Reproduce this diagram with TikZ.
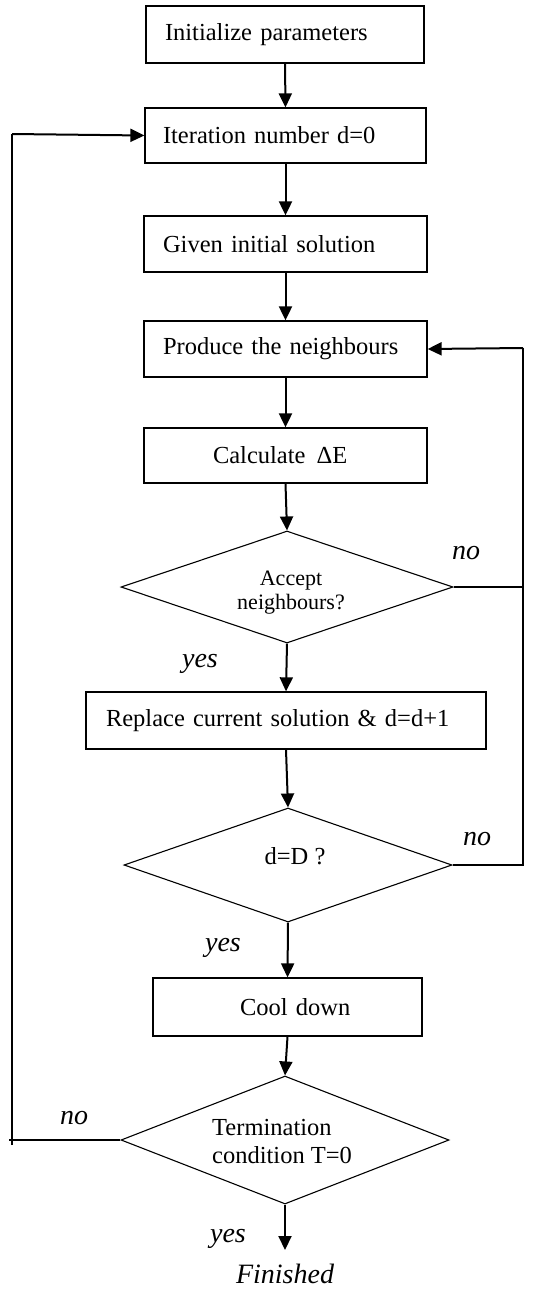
\documentclass[tikz,border=0pt]{standalone}
\usepackage{fontspec}
\setmainfont{Liberation Serif}
\usetikzlibrary{shapes.geometric,arrows.meta}
\begin{document}
\begin{tikzpicture}[x=1pt,y=-1pt,
  box/.style={draw, line width=1.3pt, inner sep=0pt, align=left, font=\fontsize{24.5}{28}\selectfont},
  dia/.style={draw, diamond, line width=1.1pt, inner sep=0pt},
  arr/.style={line width=2pt, -{Triangle[length=14pt,width=13pt]}},
  loopline/.style={line width=1.4pt},
  lbl/.style={font=\fontsize{28}{30}\selectfont\itshape, anchor=base, inner sep=0pt},
  dtxt/.style={font=\fontsize{24.5}{28}\selectfont, inner sep=0pt},
  dtxtsmall/.style={font=\fontsize{22}{25}\selectfont, inner sep=0pt, anchor=base}
]
\useasboundingbox (0,0) rectangle (535,1290);

% boxes
\node[box, text width=278pt, minimum height=57pt] (b1) at (285,34.5) {\hspace*{19pt}Initialize parameters};
\node[box, text width=281pt, minimum height=55pt] (b2) at (285.5,135.5) {\hspace*{18pt}Iteration number d=0};
\node[box, text width=283pt, minimum height=56pt] (b3) at (285.5,244) {\hspace*{19pt}Given initial solution};
\node[box, text width=283pt, minimum height=56pt] (b4) at (285.5,349) {\hspace*{19pt}Produce the neighbours};
\node[box, text width=283pt, minimum height=55pt] (b5) at (285.5,455.5) {\hspace*{69pt}Calculate\hspace{0.45em}ΔE};
\node[dia, minimum width=332pt, minimum height=112pt] (d1) at (287,587) {};
\node[box, text width=400pt, minimum height=57pt] (b6) at (286,720.5) {\hspace*{20pt}Replace current solution \& d=d+1};
\node[dia, minimum width=328pt, minimum height=114pt] (d2) at (288,865) {};
\node[box, text width=269pt, minimum height=58pt] (b7) at (287.5,1007) {\hspace*{87pt}Cool down};
\node[dia, minimum width=328pt, minimum height=128pt] (d3) at (285,1140) {};

% diamond texts
\node[dtxtsmall] (t1a) at (291,585) {Accept};
\node[dtxtsmall] (t1b) at (291,609) {neighbours?};
\node[dtxt, anchor=base] (t2) at (295,864) {d=D ?};
\node[dtxt, anchor=base west] (t3a) at (212,1135) {Termination};
\node[dtxt, anchor=base west] (t3b) at (212,1163) {condition T=0};

% labels
\node[lbl] (no1) at (466,559) {no};
\node[lbl] (yes1) at (200,667) {yes};
\node[lbl] (no2) at (477,845) {no};
\node[lbl] (yes2) at (223,951) {yes};
\node[lbl] (no3) at (74,1124) {no};
\node[lbl] (yes3) at (228,1242) {yes};
\node[lbl] (fin) at (285,1283) {Finished};

% coordinates for loops
\coordinate (fe) at (285,1250);
\coordinate (L0) at (9,1140);
\coordinate (L1) at (12,1145);
\coordinate (L2) at (12,134);
\coordinate (R0) at (523,348);
\coordinate (R2) at (523,865);

% straight arrows
\draw[arr] (b1.south) -- (b2.north);
\draw[arr] (b2.south) -- (b3.north);
\draw[arr] (b3.south) -- (b4.north);
\draw[arr] (b4.south) -- (b5.north);
\draw[arr] (b5.south) -- (d1.north);
\draw[arr] (d1.south) -- (b6.north);
\draw[arr] (b6.south) -- (d2.north);
\draw[arr] (d2.south) -- (b7.north);
\draw[arr] (b7.south) -- (d3.north);
\draw[arr] (d3.south) -- (fe);

% right loop
\draw[loopline] (d1.east) -- (d1.east -| R0);
\draw[loopline] (d2.east) -- (R2) -- (R0);
\draw[arr] (R0) -- (b4.east);

% left loop
\draw[loopline] (d3.west) -- (L0);
\draw[loopline] (L1) -- (L2);
\draw[arr] (L2) -- (b2.west);
\end{tikzpicture}
\end{document}
